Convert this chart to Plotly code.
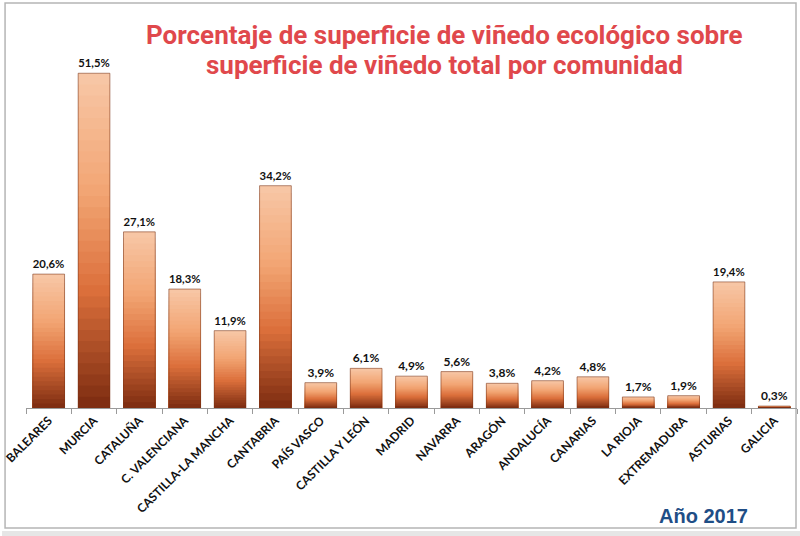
import plotly.graph_objects as go

categories = ["BALEARES", "MURCIA", "CATALUÑA", "C. VALENCIANA", "CASTILLA-LA MANCHA",
              "CANTABRIA", "PAÍS VASCO", "CASTILLA Y LEÓN", "MADRID", "NAVARRA", "ARAGÓN",
              "ANDALUCÍA", "CANARIAS", "LA RIOJA", "EXTREMADURA", "ASTURIAS", "GALICIA"]
values = [20.6, 51.5, 27.1, 18.3, 11.9, 34.2, 3.9, 6.1, 4.9, 5.6, 3.8, 4.2, 4.8, 1.7, 1.9, 19.4, 0.3]
labels = [f"{v:.1f}".replace(".", ",") + "%" for v in values]

title_line1 = "Porcentaje de superficie de viñedo ecológico sobre"
title_line2 = "superficie de viñedo total por comunidad"
year_text = "Año 2017"

# gradient stops (top -> bottom of each bar)
stops = [(0.0, (247, 198, 165)), (0.35, (242, 165, 115)), (0.65, (220, 112, 60)), (1.0, (128, 46, 18))]


def interp(t):
    for (t0, c0), (t1, c1) in zip(stops[:-1], stops[1:]):
        if t0 <= t <= t1:
            f = (t - t0) / (t1 - t0) if t1 > t0 else 0
            return "rgb(%d,%d,%d)" % tuple(round(a + (b - a) * f) for a, b in zip(c0, c1))
    return "rgb(%d,%d,%d)" % stops[-1][1]


N = 30
fig = go.Figure()
for k in range(N):
    frac = (N - k) / N
    t = k / (N - 1)
    fig.add_trace(go.Bar(
        x=categories, y=[v * frac for v in values],
        marker=dict(color=interp(t), line=dict(width=0)),
        text=labels if k == 0 else None,
        textposition="outside" if k == 0 else "none",
        textfont=dict(family="Lato", size=12, color="#111111", weight="bold"),
        cliponaxis=False, hoverinfo="skip", showlegend=False,
    ))
# outline
fig.add_trace(go.Bar(
    x=categories, y=values,
    marker=dict(color="rgba(0,0,0,0)", line=dict(width=1, color="rgba(120,50,20,0.55)")),
    hoverinfo="skip", showlegend=False,
))

title_font = dict(family="Roboto", size=26, color="#E0484C", weight="bold")

fig.update_layout(
    width=800, height=536,
    margin=dict(l=24, r=3, t=18, b=128),
    paper_bgcolor="white", plot_bgcolor="white",
    barmode="overlay", bargap=0.3,
    xaxis=dict(showline=True, linecolor="#9a9a9a", linewidth=1,
               ticks="outside", tickson="boundaries", ticklen=5, tickcolor="#9a9a9a",
               tickangle=-45, showgrid=False,
               tickfont=dict(family="Lato", size=12, color="#111111", weight="bold")),
    yaxis=dict(range=[0, 60], visible=False, showgrid=False),
    annotations=[
        dict(text=title_line1, xref="paper", yref="paper", x=(444 - 24) / 773, y=(408 - 35) / 390,
             xanchor="center", yanchor="middle", showarrow=False, font=title_font),
        dict(text=title_line2, xref="paper", yref="paper", x=(444 - 24) / 773, y=(408 - 65) / 390,
             xanchor="center", yanchor="middle", showarrow=False, font=title_font),
        dict(text=year_text, xref="paper", yref="paper", x=(703 - 24) / 773, y=(408 - 516) / 390,
             xanchor="center", yanchor="middle", showarrow=False,
             font=dict(family="Liberation Sans", size=20, color="#1F4E86", weight="bold")),
    ],
    shapes=[
        dict(type="rect", xref="paper", yref="paper",
             x0=(3 - 24) / 773, x1=(796 - 24) / 773, y0=(408 - 528) / 390, y1=(408 - 3) / 390,
             line=dict(color="#b5b5b5", width=1.5), fillcolor="rgba(0,0,0,0)", layer="below"),
        dict(type="rect", xref="paper", yref="paper",
             x0=(0 - 24) / 773, x1=(800 - 24) / 773, y0=(408 - 536) / 390, y1=(408 - 531) / 390,
             line=dict(width=0), fillcolor="#e6e6e6", layer="below"),
    ],
)

fig.write_html("out.html")
